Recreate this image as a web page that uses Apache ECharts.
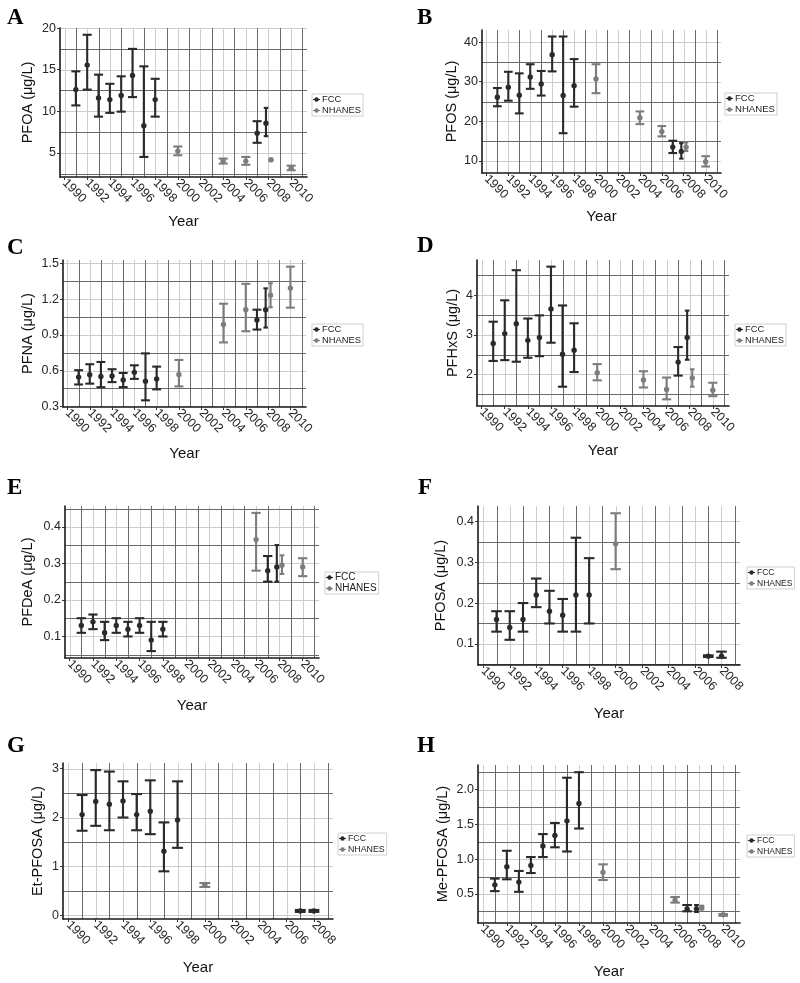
<!DOCTYPE html>
<html><head><meta charset="utf-8">
<script src="https://cdn.jsdelivr.net/npm/echarts@6/dist/echarts.min.js"></script>
<style>html,body{margin:0;padding:0;background:#fff}#c{width:800px;height:983px}</style>
</head><body><div id="c"></div>
<script>
// ---------- DATA ----------
const fccYears = [1991, 1992, 1993, 1994, 1995, 1996, 1997, 1998, 2007, 2008];
const xTicksTo2010 = [1990, 1992, 1994, 1996, 1998, 2000, 2002, 2004, 2006, 2008, 2010];
const xTicksTo2008 = [1990, 1992, 1994, 1996, 1998, 2000, 2002, 2004, 2006, 2008];
const nhYearsFull = [2000, 2004, 2006, 2008, 2010];
const nhYearsE = [2006, 2008, 2010];
const nhYearsFG = [2000];
const nhYearsH = [2000, 2006, 2008, 2010];

// A PFOA
const pfoaFccMean = [12.6, 15.55, 11.6, 11.4, 11.9, 14.3, 8.25, 11.4, 7.35, 8.55];
const pfoaFccLow  = [10.7, 12.6, 9.35, 9.8, 9.95, 11.7, 4.5, 9.35, 6.2, 7.0];
const pfoaFccHigh = [14.8, 19.2, 14.4, 13.3, 14.2, 17.5, 15.4, 13.9, 8.8, 10.4];
const pfoaNhMean  = [5.2, 4.0, 4.0, 4.15, 3.15];
const pfoaNhLow   = [4.7, 3.7, 3.55, 4.0, 2.9];
const pfoaNhHigh  = [5.75, 4.3, 4.5, 4.3, 3.45];
const yTicksA = [5, 10, 15, 20];

// B PFOS
const pfosFccMean = [26.1, 28.6, 26.6, 31.2, 29.4, 36.8, 26.5, 29.0, 13.5, 12.4];
const pfosFccLow  = [23.8, 25.2, 22.0, 28.2, 26.5, 32.6, 17.0, 23.7, 12.0, 10.6];
const pfosFccHigh = [28.4, 32.5, 32.1, 34.4, 32.7, 41.4, 41.4, 35.7, 15.1, 14.5];
const pfosNhMean  = [30.7, 20.9, 17.4, 13.5, 9.8];
const pfosNhLow   = [27.1, 19.3, 16.2, 12.5, 8.6];
const pfosNhHigh  = [34.4, 22.5, 18.8, 14.7, 11.2];
const yTicksB = [10, 20, 30, 40];

// C PFNA
const pfnaFccMean = [0.545, 0.565, 0.55, 0.555, 0.52, 0.585, 0.51, 0.53, 1.025, 1.11];
const pfnaFccLow  = [0.483, 0.49, 0.46, 0.503, 0.461, 0.53, 0.35, 0.442, 0.944, 0.961];
const pfnaFccHigh = [0.603, 0.653, 0.672, 0.611, 0.58, 0.644, 0.744, 0.633, 1.111, 1.29];
const pfnaNhMean  = [0.567, 0.986, 1.111, 1.233, 1.292];
const pfnaNhLow   = [0.467, 0.836, 0.93, 1.131, 1.128];
const pfnaNhHigh  = [0.689, 1.161, 1.328, 1.333, 1.472];
const yTicksC = [0.3, 0.6, 0.9, 1.2, 1.5];

// D PFHxS
const pfhxsFccMean = [2.78, 3.03, 3.28, 2.86, 2.93, 3.65, 2.51, 2.61, 2.31, 2.93];
const pfhxsFccLow  = [2.34, 2.36, 2.32, 2.42, 2.46, 2.80, 1.69, 2.06, 1.97, 2.37];
const pfhxsFccHigh = [3.33, 3.87, 4.63, 3.41, 3.49, 4.72, 3.74, 3.29, 2.69, 3.61];
const pfhxsNhMean  = [2.04, 1.86, 1.62, 1.91, 1.60];
const pfhxsNhLow   = [1.85, 1.67, 1.37, 1.69, 1.45];
const pfhxsNhHigh  = [2.26, 2.08, 1.92, 2.13, 1.79];
const yTicksD = [2, 3, 4];

// E PFDeA
const pfdeaFccMean = [0.13, 0.14, 0.11, 0.13, 0.12, 0.13, 0.09, 0.12, 0.28, 0.29];
const pfdeaFccLow  = [0.11, 0.12, 0.09, 0.11, 0.10, 0.11, 0.06, 0.10, 0.25, 0.25];
const pfdeaFccHigh = [0.15, 0.16, 0.14, 0.15, 0.14, 0.15, 0.14, 0.14, 0.32, 0.35];
const pfdeaNhMean  = [0.365, 0.295, 0.29];
const pfdeaNhLow   = [0.28, 0.271, 0.265];
const pfdeaNhHigh  = [0.438, 0.322, 0.314];
const yTicksE = [0.1, 0.2, 0.3, 0.4];

// F PFOSA
const pfosaFccMean = [0.16, 0.14, 0.16, 0.22, 0.18, 0.17, 0.22, 0.22, 0.07, 0.07];
const pfosaFccLow  = [0.13, 0.11, 0.13, 0.19, 0.15, 0.13, 0.13, 0.15, 0.068, 0.066];
const pfosaFccHigh = [0.18, 0.18, 0.20, 0.26, 0.23, 0.21, 0.36, 0.31, 0.072, 0.081];
const pfosaNhMean  = [0.345];
const pfosaNhLow   = [0.283];
const pfosaNhHigh  = [0.42];
const yTicksF = [0.1, 0.2, 0.3, 0.4];

// G Et-PFOSA
const etFccMean = [2.06, 2.33, 2.27, 2.34, 2.06, 2.13, 1.31, 1.95, 0.09, 0.09];
const etFccLow  = [1.73, 1.83, 1.74, 2.0, 1.74, 1.66, 0.90, 1.38, 0.07, 0.07];
const etFccHigh = [2.46, 2.97, 2.94, 2.74, 2.48, 2.76, 1.90, 2.74, 0.11, 0.11];
const etNhMean  = [0.62];
const etNhLow   = [0.58];
const etNhHigh  = [0.66];
const yTicksG = [0, 1, 2, 3];

// H Me-PFOSA
const meFccMean = [0.63, 0.89, 0.67, 0.91, 1.19, 1.34, 1.55, 1.80, 0.285, 0.285];
const meFccLow  = [0.54, 0.71, 0.53, 0.80, 1.03, 1.17, 1.11, 1.44, 0.25, 0.24];
const meFccHigh = [0.72, 1.12, 0.83, 1.03, 1.36, 1.52, 2.17, 2.25, 0.34, 0.34];
const meNhMean  = [0.81, 0.41, 0.30, 0.20];
const meNhLow   = [0.70, 0.375, 0.275, 0.185];
const meNhHigh  = [0.925, 0.455, 0.33, 0.21];
const yTicksH = [0.5, 1.0, 1.5, 2.0];

// ---------- LAYOUT ----------
const FONT = '"Liberation Sans", Arial, Helvetica, sans-serif';
const FCC_COLOR = '#2a2a2a';
const NH_COLOR = '#7d7d7d';
const panels = [
  {letter:'A', g:[60,28,247,149], lp:[7,7], leg:[312,94], lf:9.4, yName:'PFOA (\u03bcg/L)', yGap:25, xGap:37, dec:0, xMax:2011.4, xTicks:xTicksTo2010, yTicks:yTicksA,
   fcc:[pfoaFccMean,pfoaFccLow,pfoaFccHigh], nhYears:nhYearsFull, nh:[pfoaNhMean,pfoaNhLow,pfoaNhHigh]},
  {letter:'B', g:[482,30,239,143], lp:[417,7], leg:[725,93], lf:9.6, yName:'PFOS (\u03bcg/L)', yGap:23, xGap:36, dec:0, xMax:2011.4, xTicks:xTicksTo2010, yTicks:yTicksB,
   fcc:[pfosFccMean,pfosFccLow,pfosFccHigh], nhYears:nhYearsFull, nh:[pfosNhMean,pfosNhLow,pfosNhHigh]},
  {letter:'C', g:[63,260,243,147], lp:[7,237], leg:[312,324], lf:9.4, yName:'PFNA (\u03bcg/L)', yGap:28, xGap:39, dec:1, xMax:2011.4, xTicks:xTicksTo2010, yTicks:yTicksC,
   fcc:[pfnaFccMean,pfnaFccLow,pfnaFccHigh], nhYears:nhYearsFull, nh:[pfnaNhMean,pfnaNhLow,pfnaNhHigh]},
  {letter:'D', g:[477,260,252,146], lp:[417,235], leg:[735,324], lf:9.4, yName:'PFHxS (\u03bcg/L)', yGap:17, xGap:37, dec:0, xMax:2011.4, xTicks:xTicksTo2010, yTicks:yTicksD,
   fcc:[pfhxsFccMean,pfhxsFccLow,pfhxsFccHigh], nhYears:nhYearsFull, nh:[pfhxsNhMean,pfhxsNhLow,pfhxsNhHigh]},
  {letter:'E', g:[65,506,254,152], lp:[7,477], leg:[325,572], lf:10, yName:'PFDeA (\u03bcg/L)', yGap:30, xGap:40, dec:1, xMax:2011.4, xTicks:xTicksTo2010, yTicks:yTicksE,
   fcc:[pfdeaFccMean,pfdeaFccLow,pfdeaFccHigh], nhYears:nhYearsE, nh:[pfdeaNhMean,pfdeaNhLow,pfdeaNhHigh]},
  {letter:'F', g:[478,506,262,159], lp:[418,477], leg:[747,567], lf:8.5, yName:'PFOSA (\u03bcg/L)', yGap:30, xGap:41, dec:1, xMax:2009.4, xTicks:xTicksTo2008, yTicks:yTicksF,
   fcc:[pfosaFccMean,pfosaFccLow,pfosaFccHigh], nhYears:nhYearsFG, nh:[pfosaNhMean,pfosaNhLow,pfosaNhHigh]},
  {letter:'G', g:[63,763,270,156], lp:[7,735], leg:[338,833], lf:8.8, yName:'Et-PFOSA (\u03bcg/L)', yGap:18, xGap:41, dec:0, xMax:2009.4, xTicks:xTicksTo2008, yTicks:yTicksG,
   fcc:[etFccMean,etFccLow,etFccHigh], nhYears:nhYearsFG, nh:[etNhMean,etNhLow,etNhHigh]},
  {letter:'H', g:[478,765,262,158], lp:[417,735], leg:[747,835], lf:8.5, yName:'Me-PFOSA (\u03bcg/L)', yGap:28, xGap:41, dec:1, xMax:2011.4, xTicks:xTicksTo2010, yTicks:yTicksH,
   fcc:[meFccMean,meFccLow,meFccHigh], nhYears:nhYearsH, nh:[meNhMean,meNhLow,meNhHigh]}
];
const X_MIN = 1989.6;
const DODGE = 0.22;

function errRender(params, api) {
  const x = api.value(0), m = api.value(1), lo = api.value(2), hi = api.value(3), w = api.value(4);
  const top = api.coord([x, hi]), bot = api.coord([x, lo]), mid = api.coord([x, m]);
  const half = api.size([w, 0])[0] / 2;
  const color = api.visual('color');
  const st = {stroke: color, lineWidth: 2.1};
  return {type: 'group', children: [
    {type: 'line', shape: {x1: top[0], y1: top[1], x2: bot[0], y2: bot[1]}, style: st},
    {type: 'line', shape: {x1: top[0] - half, y1: top[1], x2: top[0] + half, y2: top[1]}, style: st},
    {type: 'line', shape: {x1: bot[0] - half, y1: bot[1], x2: bot[0] + half, y2: bot[1]}, style: st},
    {type: 'circle', shape: {cx: mid[0], cy: mid[1], r: 2.7}, style: {fill: color}}
  ]};
}
function gridRender(params, api) {
  const cs = params.coordSys;
  const orient = api.value(2), kind = api.value(3);
  const p = api.coord([api.value(0), api.value(1)]);
  const st = {stroke: kind ? '#6a6a6a' : '#cdcdcd', lineWidth: 1};
  if (orient === 0) {
    const px = Math.round(p[0]) + 0.5;
    return {type: 'line', shape: {x1: px, y1: cs.y, x2: px, y2: cs.y + cs.height}, style: st};
  }
  const py = Math.round(p[1]) + 0.5;
  return {type: 'line', shape: {x1: cs.x, y1: py, x2: cs.x + cs.width, y2: py}, style: st};
}

const option = {animation: false, backgroundColor: '#fff',
  grid: [], xAxis: [], yAxis: [], series: [], legend: [], graphic: []};
const ICON = 'path://M0,2H8V3H0Z M6.5,2.5A2.5,2.5,0,1,1,1.5,2.5A2.5,2.5,0,1,1,6.5,2.5Z';

panels.forEach((p, i) => {
  const [fm, fl, fh] = p.fcc, [nm, nl, nh] = p.nh;
  const allLo = fl.concat(nl), allHi = fh.concat(nh);
  const lo = Math.min(...allLo), hi = Math.max(...allHi);
  const yMin = lo - 0.05 * (hi - lo), yMax = hi + 0.05 * (hi - lo);

  option.grid.push({left: p.g[0], top: p.g[1], width: p.g[2], height: p.g[3], outerBoundsMode: 'none'});
  option.xAxis.push({gridIndex: i, type: 'value', min: X_MIN, max: p.xMax, z: 5,
    name: 'Year', nameLocation: 'middle', nameGap: p.xGap,
    nameTextStyle: {fontSize: 15, color: '#111', fontFamily: FONT},
    axisLine: {show: true, onZero: false, lineStyle: {color: '#1a1a1a', width: 1.6}},
    axisTick: {show: true, length: 3, customValues: p.xTicks, lineStyle: {color: '#333'}},
    axisLabel: {customValues: p.xTicks, rotate: -45, margin: 4, fontSize: 12.5, color: '#262626', fontFamily: FONT,
      formatter: v => String(Math.round(v))},
    splitLine: {show: false}});
  option.yAxis.push({gridIndex: i, type: 'value', min: yMin, max: yMax, z: 5,
    name: p.yName, nameLocation: 'middle', nameGap: p.yGap,
    nameTextStyle: {fontSize: 14.5, color: '#111', fontFamily: FONT},
    axisLine: {show: true, onZero: false, lineStyle: {color: '#1a1a1a', width: 1.6}},
    axisTick: {show: true, length: 3, customValues: p.yTicks, lineStyle: {color: '#333'}},
    axisLabel: {customValues: p.yTicks, margin: 4, fontSize: 12.5, color: '#262626', fontFamily: FONT,
      formatter: v => v.toFixed(p.dec)},
    splitLine: {show: false}});

  // gridlines: light at labelled breaks, dark at the midpoints
  const gl = [];
  p.xTicks.forEach(v => gl.push([v, yMin, 0, 0]));
  p.yTicks.forEach(v => gl.push([X_MIN, v, 1, 0]));
  const xs = p.xTicks[1] - p.xTicks[0];
  for (let v = p.xTicks[0] - xs / 2; v <= p.xMax; v += xs) if (v >= X_MIN) gl.push([v, yMin, 0, 1]);
  const ys = p.yTicks[1] - p.yTicks[0];
  for (let k = -1; k <= p.yTicks.length; k++) {
    const v = p.yTicks[0] + ys * (k + 0.5);
    if (v > yMin && v < yMax) gl.push([X_MIN, v, 1, 1]);
  }
  option.series.push({type: 'custom', name: 'grid', xAxisIndex: i, yAxisIndex: i, z: 1, silent: true,
    renderItem: gridRender, encode: {x: 0, y: 1}, data: gl});

  const fccData = fccYears.map((yr, k) => {
    const dodged = p.nhYears.includes(yr);
    return [dodged ? yr - DODGE : yr, fm[k], fl[k], fh[k], dodged ? 0.4 : 0.8];
  });
  const nhData = p.nhYears.map((yr, k) => {
    const dodged = fccYears.includes(yr);
    return [dodged ? yr + DODGE : yr, nm[k], nl[k], nh[k], dodged ? 0.4 : 0.8];
  });
  option.series.push({type: 'custom', name: 'FCC', xAxisIndex: i, yAxisIndex: i, z: 3,
    itemStyle: {color: FCC_COLOR}, renderItem: errRender, encode: {x: 0, y: [1, 2, 3]}, data: fccData});
  option.series.push({type: 'custom', name: 'NHANES', xAxisIndex: i, yAxisIndex: i, z: 3,
    itemStyle: {color: NH_COLOR}, renderItem: errRender, encode: {x: 0, y: [1, 2, 3]}, data: nhData});

  option.legend.push({left: p.leg[0], top: p.leg[1], orient: 'vertical', selectedMode: false,
    data: [{name: 'FCC', icon: ICON}, {name: 'NHANES', icon: ICON}],
    itemWidth: 7, itemHeight: 5, itemGap: 0, padding: [0, 2, 0, 1],
    borderColor: '#cfcfcf', borderWidth: 1,
    textStyle: {fontSize: p.lf, lineHeight: 11, color: '#222', fontFamily: FONT, padding: [0, 0, 0, -3]}});

  option.graphic.push({type: 'text', left: p.lp[0], top: p.lp[1],
    style: {text: p.letter, font: 'bold 23px "Liberation Serif", "Times New Roman", serif', fill: '#000'}});
});

const chart = echarts.init(document.getElementById('c'), null, {renderer: 'canvas'});
chart.setOption(option);
</script>
</body></html>
